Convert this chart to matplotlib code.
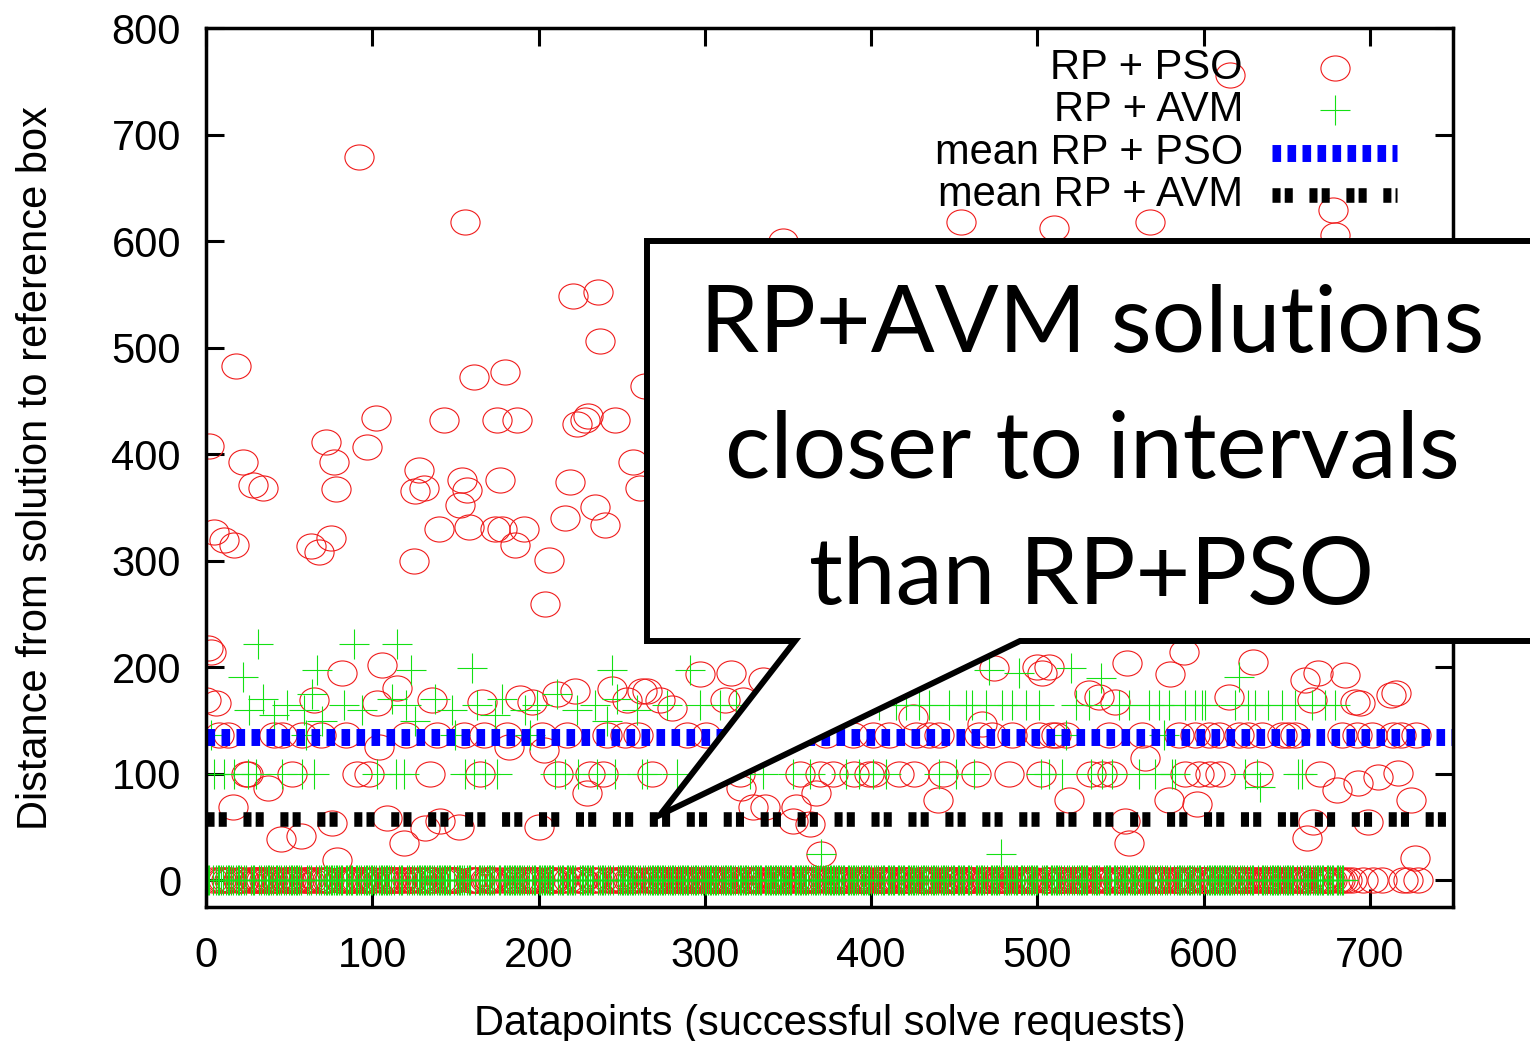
import numpy as np
import matplotlib
matplotlib.use("Agg")
import matplotlib.pyplot as plt
from matplotlib.path import Path
from matplotlib.transforms import Affine2D
from matplotlib.patches import Polygon
from matplotlib.lines import Line2D

plt.rcParams['font.family'] = ['Liberation Sans', 'DejaVu Sans']
plt.rcParams['lines.scale_dashes'] = False

# RP + PSO: points off the zero band (datapoint index, distance)
pso_x = [0, 1, 2, 3, 5, 6, 8, 11, 13, 16, 17, 18, 22, 24, 25, 28, 34, 37, 41, 45,
         46, 52, 57, 58, 63, 65, 68, 69, 72, 75, 76, 77, 78, 79, 82, 84, 91, 92, 97, 98,
         102, 103, 104, 106, 109, 115, 119, 120, 125, 126, 128, 131, 132, 135, 136, 139, 140, 141, 143, 152,
         153, 154, 155, 156, 157, 158, 161, 165, 166, 167, 174, 175, 177, 178, 180, 181, 182, 186, 187, 189,
         191, 196, 200, 202, 203, 204, 206, 211, 212, 216, 217, 219, 221, 222, 223, 228, 229, 230, 231, 234,
         236, 237, 239, 240, 241, 244, 246, 252, 253, 257, 261, 262, 264,
         260, 265, 268, 273, 280, 289, 297, 301, 312, 316, 321, 322, 323, 329, 335, 336, 347, 353, 355, 357,
         363, 367, 369, 370, 373, 377, 389, 390, 399, 401, 402, 411, 417, 425, 426, 427, 435, 440, 441, 443,
         454, 463, 465, 467, 473, 474, 483, 485, 500, 501, 502, 503, 507, 509, 510,
         511, 517, 519, 531, 532, 537, 539, 543, 545, 547, 553, 554, 555, 563, 565, 568, 579, 580, 585, 588,
         589, 595, 596, 597, 603, 604, 609, 610, 615, 616, 621, 627, 630, 633, 635, 647, 651, 655, 661, 662,
         665, 666, 669, 670, 678, 679, 680, 683, 685, 686, 689, 691, 692, 693, 694, 696, 699, 701, 702, 705,
         707, 713, 714, 716, 717, 719, 720, 723, 725, 727, 728, 729]
pso_y = [169, 218, 408, 214, 327, 166, 136, 319, 136, 69, 315, 483, 393, 100, 100, 371, 368, 87, 136, 39,
         136, 100, 42, 136, 314, 169, 308, 136, 411, 321, 54, 393, 367, 19, 195, 136, 100, 679, 407, 100,
         434, 166, 125, 202, 59, 181, 35, 136, 300, 365, 385, 368, 49, 100, 169, 136, 330, 56, 432, 50,
         352, 376, 136, 618, 366, 332, 472, 100, 167, 136, 330, 432, 376, 330, 477, 136, 125, 315, 432, 171,
         330, 167, 50, 136, 122, 259, 301, 175, 100, 340, 136, 374, 548, 178, 428, 432, 82, 436, 100, 350,
         552, 506, 100, 334, 136, 180, 432, 136, 169, 393, 368, 178, 464,
         136, 178, 100, 169, 162, 136, 194, 136, 169, 195, 100, 87, 169, 69, 188, 69, 600, 56, 69, 100,
         53, 82, 100, 25, 136, 100, 136, 100, 100, 136, 100, 136, 100, 153, 100, 136, 136, 75, 136, 100,
         618, 100, 136, 147, 136, 199, 100, 136, 200, 136, 100, 195, 200, 136, 612,
         136, 136, 75, 176, 100, 172, 100, 136, 100, 167, 56, 204, 35, 136, 115, 618, 75, 194, 136, 214,
         100, 136, 72, 100, 136, 100, 136, 100, 172, 756, 136, 136, 205, 100, 136, 136, 136, 136, 188, 40,
         169, 55, 195, 100, 629, 606, 85, 136, 193, 0, 0, 167, 136, 91, 166, 0, 55, 136, 0, 97,
         0, 174, 136, 176, 101, 136, 0, 0, 75, 21, 136, 0]
pso_band_n = 685

# RP + AVM: points off the zero band
avm_x = [3, 5, 11, 17, 22, 25, 26, 30, 31, 34, 41, 46, 49, 58, 59, 60, 64, 65, 67, 70,
         83, 89, 94, 103, 112, 114, 115, 119, 120, 123, 126, 138, 148, 150, 156, 160, 161, 163, 168, 174,
         175, 178, 192, 195, 199, 210, 211, 216, 223, 224, 234, 235, 241, 244, 246, 247, 259, 262,
         265, 277, 283, 291, 297, 309, 319, 327, 335, 353, 363, 370, 385, 393, 401, 405, 409, 415, 421, 429,
         435, 441, 447, 451, 457, 461, 462, 469, 471, 478, 479, 485, 489, 493, 501, 502,
         507, 515, 517, 520, 523, 531, 532, 538, 539, 545, 549, 555, 561, 567, 571, 573, 576, 579, 581, 583,
         589, 595, 599, 601, 619, 621, 625, 627, 631, 632, 634, 639, 647, 655, 657, 659, 665, 673, 679]
avm_y = [136, 100, 100, 100, 191, 100, 160, 100, 222, 170, 155, 100, 165, 100, 160, 136, 175, 100, 197, 150,
         165, 222, 160, 100, 170, 100, 222, 100, 165, 197, 150, 170, 160, 136, 100, 199, 100, 165, 100, 155,
         100, 170, 160, 136, 165, 100, 175, 100, 160, 100, 165, 100, 150, 197, 100, 170, 160, 100,
         100, 165, 100, 197, 165, 165, 165, 100, 100, 100, 100, 25, 100, 100, 100, 165, 100, 165, 165, 165,
         165, 100, 165, 100, 165, 165, 100, 165, 197, 25, 165, 165, 195, 165, 165, 100,
         100, 100, 136, 199, 165, 165, 100, 190, 100, 100, 165, 165, 100, 165, 100, 165, 136, 165, 100, 100,
         165, 165, 165, 165, 165, 191, 100, 165, 165, 100, 88, 165, 165, 165, 100, 100, 165, 165, 165]
avm_band_n = 685

pso_mean = 135
avm_mean = 58

x_ticks = [0, 100, 200, 300, 400, 500, 600, 700]
y_ticks = [0, 100, 200, 300, 400, 500, 600, 700, 800]

# points sitting on the zero band
pso_set = set(pso_x)
pso_bx = [i for i in range(pso_band_n) if i not in pso_set]
avm_set = set(avm_x)
avm_bx = [i for i in range(avm_band_n) if i not in avm_set]

W, H = 1530, 1041
fig = plt.figure(figsize=(W / 100, H / 100), dpi=100)
ax = fig.add_axes([206 / W, 1 - 907 / H, (1453 - 206) / W, (907 - 28) / H])

red = '#f01c1c'
green = '#14e014'
circ = Path.unit_circle().transformed(Affine2D().scale(1.0, 0.86))

ax.plot(pso_bx, [0] * len(pso_bx), ls='none', marker=circ, ms=21, mfc='none',
        mec=red, mew=0.8)
ax.plot(pso_x, pso_y, ls='none', marker=circ, ms=21, mfc='none', mec=red, mew=0.8)
ax.plot(avm_bx, [0] * len(avm_bx), ls='none', marker='+', ms=21, mec=green, mew=0.8)
ax.plot(avm_x, avm_y, ls='none', marker='+', ms=21, mec=green, mew=0.8)

blue_style = dict(color='#0000ff', lw=12.2, dashes=(6.2, 4.6), solid_capstyle='butt',
                  dash_capstyle='butt')
black_style = dict(color='black', lw=10.5, dashes=(5.8, 3.0, 5.8, 12.0),
                   dash_capstyle='butt')
ax.axhline(pso_mean, **blue_style)
ax.axhline(avm_mean, **black_style)

ax.set_xlim(0, 750)
ax.set_ylim(-25, 800)
ax.set_xticks(x_ticks)
ax.set_yticks(y_ticks)
ax.tick_params(direction='in', length=13, width=2.2, top=True, right=True,
               labelsize=30)
ax.tick_params(axis='y', pad=18)
ax.tick_params(axis='x', pad=21)
for s in ax.spines.values():
    s.set_linewidth(2.5)

ax.set_xlabel('Datapoints (successful solve requests)', fontsize=30, labelpad=20)
ax.set_ylabel('Distance from solution to reference box', fontsize=30, labelpad=40)

# key, gnuplot style: right-aligned text, sample on the right
tx = (1243 - 206) / 1247
rows = [0.9546, 0.907, 0.8583, 0.8095]
labels = ['RP + PSO', 'RP + AVM', 'mean RP + PSO', 'mean RP + AVM']
for lab, yy in zip(labels, rows):
    ax.text(tx, yy, lab, transform=ax.transAxes, ha='right', va='center', fontsize=30)
mx = (1335 - 206) / 1247
ax.add_line(Line2D([mx], [rows[0]], transform=ax.transAxes, ls='none', marker=circ,
                   ms=21, mfc='none', mec=red, mew=0.8))
ax.add_line(Line2D([mx], [rows[1]], transform=ax.transAxes, ls='none', marker='+',
                   ms=21, mec=green, mew=0.8))
lx = [(1272 - 206) / 1247, (1397 - 206) / 1247]
ax.add_line(Line2D(lx, [rows[2]] * 2, transform=ax.transAxes, **blue_style))
ax.add_line(Line2D(lx, [rows[3]] * 2, transform=ax.transAxes, **black_style))

# speech-bubble callout
pts = [(647, 241), (1540, 241), (1540, 641), (1020, 641), (660, 815), (795, 641), (647, 641)]
bubble = Polygon([(px / W, 1 - py / H) for px, py in pts], closed=True,
                 transform=fig.transFigure, facecolor='white', edgecolor='black',
                 lw=4.3, joinstyle='miter', zorder=5)
fig.add_artist(bubble)
lines = ['RP+AVM solutions', 'closer to intervals', 'than RP+PSO']
for txt, by in zip(lines, [352, 478, 604]):
    fig.text(1092 / W, 1 - by / H, txt, ha='center', va='baseline', fontsize=68,
             family='Lato', zorder=6)

fig.savefig('out.png', dpi=100)
